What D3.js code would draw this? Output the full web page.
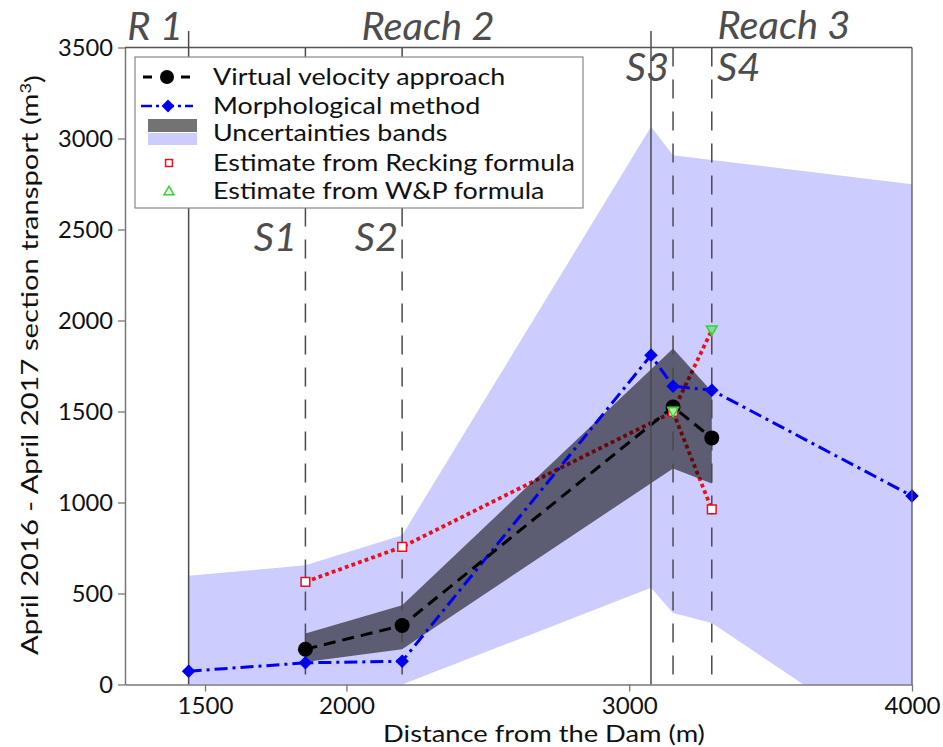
<!DOCTYPE html>
<html>
<head>
<meta charset="utf-8">
<script src="https://cdn.jsdelivr.net/npm/d3@7"></script>
<style>
  body { margin: 0; background: #fff; }
  svg { display: block; }
  text { font-family: Lato, "Open Sans", sans-serif; }
</style>
</head>
<body>
<svg id="chart" width="943" height="747"></svg>
<script>
// ---- data (distance from the dam in m, section transport in m3) ----
const vvX = [1855, 2197, 3155, 3292];
const vvY = [194, 324, 1525, 1355];

const darkX = [1855, 2197, 3155, 3292];
const darkLow = [124, 194, 1187, 1104];
const darkHigh = [280, 436, 1846, 1610];

const lightX = [1442, 1855, 2197, 3077, 3155, 3292, 4000];
const lightLow = [0, 0, 0, 531, 393, 338, -400];
const lightHigh = [597, 655, 820, 3064, 2908, 2882, 2749];

const morphX = [1442, 1855, 2197, 3077, 3155, 3292, 4000];
const morphY = [73, 119, 128, 1809, 1639, 1617, 1036];

const reckX = [1855, 2197, 3155, 3292];
const reckY = [564, 756, 1498, 962];

const wpX = [3155, 3292];
const wpY = [1500, 1947];

// section and reach boundaries
const solidLines = [1442, 3077];
const dashedLines = [1855, 2197, 3155, 3292];

const xTicks = [1500, 2000, 3000, 4000];
const yTicks = [0, 500, 1000, 1500, 2000, 2500, 3000, 3500];

const legendLabels = [
  "Virtual velocity approach",
  "Morphological method",
  "Uncertainties bands",
  "Estimate from Recking formula",
  "Estimate from W&P formula"
];

// ---- layout ----
const plot = { left: 125, right: 912, top: 47.5, bottom: 684.5 };
const svg = d3.select("#chart");

const x = d3.scaleLinear().domain([1217, 4000]).range([plot.left, plot.right]);
const y = d3.scaleLinear().domain([0, 3500]).range([plot.bottom, plot.top]);

const zip = (xs, ys) => xs.map((v, i) => [v, ys[i]]);

// widen a group of texts horizontally (about each text's own anchor)
// so that the widest one spans the given width
function stretchTo(sel, width, baseTransform) {
  const widest = d3.max(sel.nodes(), n => n.getComputedTextLength());
  const k = width / widest;
  sel.each(function () {
    const t = d3.select(this);
    const ax = +t.attr("x") || 0;
    const pre = baseTransform ? baseTransform + " " : "";
    t.attr("transform", `${pre}translate(${ax},0) scale(${k},1) translate(${-ax},0)`);
  });
}

svg.append("defs").append("clipPath").attr("id", "plotClip")
  .append("rect")
  .attr("x", plot.left).attr("y", plot.top)
  .attr("width", plot.right - plot.left).attr("height", plot.bottom - plot.top);

const g = svg.append("g").attr("clip-path", "url(#plotClip)");

const area = (xs, lo, hi) => d3.area()
  .x((d, i) => x(xs[i]))
  .y0((d, i) => y(lo[i]))
  .y1((d, i) => y(hi[i]))(xs);

const line = d3.line().x(d => x(d[0])).y(d => y(d[1]));

// light uncertainty band
g.append("path").attr("d", area(lightX, lightLow, lightHigh))
  .attr("fill", "#ccccff");

// formula estimates (red dotted)
[zip(reckX, reckY), zip(wpX, wpY)].forEach(pts => {
  g.append("path").attr("d", line(pts))
    .attr("fill", "none").attr("stroke", "#e8101a")
    .attr("stroke-width", 3.8).attr("stroke-dasharray", "3.8,3.2");
});

// dark uncertainty band
g.append("path").attr("d", area(darkX, darkLow, darkHigh))
  .attr("fill", "#000").attr("fill-opacity", 0.55);

// section boundaries
const vColor = "#4a4a4a";
solidLines.forEach(v => {
  svg.append("line").attr("x1", x(v)).attr("x2", x(v))
    .attr("y1", 31).attr("y2", plot.bottom)
    .attr("stroke", vColor).attr("stroke-width", 1.5);
});
dashedLines.forEach(v => {
  g.append("line").attr("x1", x(v)).attr("x2", x(v))
    .attr("y1", plot.top).attr("y2", plot.bottom)
    .attr("stroke", vColor).attr("stroke-width", 1.5)
    .attr("stroke-dasharray", "19,13");
});

// morphological method (blue dash-dot)
g.append("path").attr("d", line(zip(morphX, morphY)))
  .attr("fill", "none").attr("stroke", "#0000ee")
  .attr("stroke-width", 3).attr("stroke-dasharray", "13,5,3,5");

// virtual velocity approach (black dashed)
g.append("path").attr("d", line(zip(vvX, vvY)))
  .attr("fill", "none").attr("stroke", "#000")
  .attr("stroke-width", 3).attr("stroke-dasharray", "12,7");

// markers
const diamond = d3.symbol().type(d3.symbolDiamond2).size(64);
const square = d3.symbol().type(d3.symbolSquare2).size(95);
const triangle = d3.symbol().type(d3.symbolTriangle2).size(85);

svg.append("g").selectAll("path").data(zip(morphX, morphY)).join("path")
  .attr("d", diamond)
  .attr("transform", d => `translate(${x(d[0])},${y(d[1])})`)
  .attr("fill", "#0000ee").attr("stroke", "#0000ee").attr("stroke-width", 2.5);

svg.append("g").selectAll("circle").data(zip(vvX, vvY)).join("circle")
  .attr("cx", d => x(d[0])).attr("cy", d => y(d[1])).attr("r", 7.5)
  .attr("fill", "#000");

svg.append("g").selectAll("path").data(zip(reckX, reckY)).join("path")
  .attr("d", square)
  .attr("transform", d => `translate(${x(d[0])},${y(d[1])})`)
  .attr("fill", "#fff").attr("stroke", "#e8101a").attr("stroke-width", 1.5);

svg.append("g").selectAll("path").data(zip(wpX, wpY)).join("path")
  .attr("d", triangle)
  .attr("transform", d => `translate(${x(d[0])},${y(d[1]) - 1}) rotate(180)`)
  .attr("fill", "rgba(60,225,60,0.45)").attr("stroke", "#2ed82e").attr("stroke-width", 1.5);

// ---- axes ----
const axisColor = "#777";
const xAxis = svg.append("g").attr("transform", `translate(0,${plot.bottom})`)
  .call(d3.axisBottom(x).tickValues(xTicks).tickFormat(d3.format("d")).tickSize(7).tickPadding(5).tickSizeOuter(0));
const yAxis = svg.append("g").attr("transform", `translate(${plot.left},0)`)
  .call(d3.axisLeft(y).tickValues(yTicks).tickFormat(d3.format("d")).tickSize(7).tickPadding(5).tickSizeOuter(0));
[xAxis, yAxis].forEach(a => {
  a.select(".domain").attr("stroke", axisColor).attr("stroke-width", 1.5);
  a.selectAll(".tick line").attr("stroke", axisColor).attr("stroke-width", 1.3);
  a.selectAll(".tick text").attr("fill", "#111").attr("font-family", null)
    .attr("font-size", null).style("font-size", "24px");
});
stretchTo(yAxis.selectAll(".tick text"), 55);
stretchTo(xAxis.selectAll(".tick text"), 56);

// frame: top and right spines
svg.append("line").attr("x1", plot.left).attr("x2", plot.right)
  .attr("y1", plot.top).attr("y2", plot.top).attr("stroke", "#555").attr("stroke-width", 1.3);
svg.append("line").attr("x1", plot.right).attr("x2", plot.right)
  .attr("y1", plot.top).attr("y2", plot.bottom).attr("stroke", "#555").attr("stroke-width", 1.3);

const xTitle = svg.append("text").attr("x", 544).attr("y", 742)
  .attr("text-anchor", "middle").attr("fill", "#111").style("font-size", "24px")
  .text("Distance from the Dam (m)");
stretchTo(xTitle, 322);

const yLab = svg.append("text")
  .attr("text-anchor", "middle").attr("fill", "#111").style("font-size", "24px");
yLab.append("tspan").text("April 2016 - April 2017 section transport (m");
yLab.append("tspan").attr("dy", "-0.45em").style("font-size", "15px").text("3");
yLab.append("tspan").attr("dy", "0.45em").text(")");
stretchTo(yLab, 580, "translate(38,365) rotate(-90)");

// ---- reach / section labels ----
const labColor = "#4d4d4d";
const labels = [
  { t: "Reach 2", x: 428, y: 40, a: "middle" },
  { t: "R 1", x: 183, y: 40, a: "end" },
  { t: "Reach 3", x: 784, y: 39, a: "middle" },
  { t: "S1", x: 297, y: 251, a: "end" },
  { t: "S2", x: 398, y: 251, a: "end" },
  { t: "S3", x: 669, y: 81, a: "end" },
  { t: "S4", x: 717, y: 81, a: "start" }
];
const labTexts = svg.append("g").selectAll("text").data(labels).join("text")
  .attr("x", d => d.x).attr("y", d => d.y).attr("text-anchor", d => d.a)
  .attr("fill", labColor).style("font-size", "38px").style("font-style", "italic")
  .text(d => d.t);
stretchTo(labTexts, 133);

// ---- legend ----
const lg = svg.append("g");
lg.append("rect").attr("x", 135).attr("y", 57).attr("width", 448).attr("height", 151)
  .attr("fill", "#fff").attr("stroke", "#888").attr("stroke-width", 1.2);
const rowY = [77, 106, 133, 163, 191];
const keyX = 167;
const lgTexts = lg.selectAll("text").data(legendLabels).join("text")
  .attr("x", 213).attr("y", (d, i) => rowY[i]).attr("dy", "0.35em")
  .attr("fill", "#111").style("font-size", "23px").text(d => d);
stretchTo(lgTexts, 362);

lg.append("line").attr("x1", 143).attr("x2", 190).attr("y1", rowY[0]).attr("y2", rowY[0])
  .attr("stroke", "#000").attr("stroke-width", 3).attr("stroke-dasharray", "9,9.5,10,9.5");
lg.append("circle").attr("cx", keyX).attr("cy", rowY[0]).attr("r", 7).attr("fill", "#000");

lg.append("line").attr("x1", 141).attr("x2", 193).attr("y1", rowY[1]).attr("y2", rowY[1])
  .attr("stroke", "#0000ee").attr("stroke-width", 2.5).attr("stroke-dasharray", "11,4,3,4");
lg.append("path").attr("d", diamond)
  .attr("transform", `translate(${keyX + 1},${rowY[1]})`)
  .attr("fill", "#0000ee").attr("stroke", "#0000ee").attr("stroke-width", 2);

lg.append("rect").attr("x", 148).attr("y", 119).attr("width", 49).attr("height", 13)
  .attr("fill", "#000").attr("fill-opacity", 0.55);
lg.append("rect").attr("x", 148).attr("y", 133).attr("width", 49).attr("height", 12)
  .attr("fill", "#ccccff");

lg.append("path").attr("d", d3.symbol().type(d3.symbolSquare2).size(60))
  .attr("transform", `translate(${keyX + 2},${rowY[3]})`)
  .attr("fill", "#fff").attr("stroke", "#e8101a").attr("stroke-width", 1.5);
lg.append("path").attr("d", d3.symbol().type(d3.symbolTriangle2).size(70))
  .attr("transform", `translate(${keyX + 2},${rowY[4] + 1})`)
  .attr("fill", "#fff").attr("stroke", "#2ed82e").attr("stroke-width", 1.5);
</script>
</body>
</html>
